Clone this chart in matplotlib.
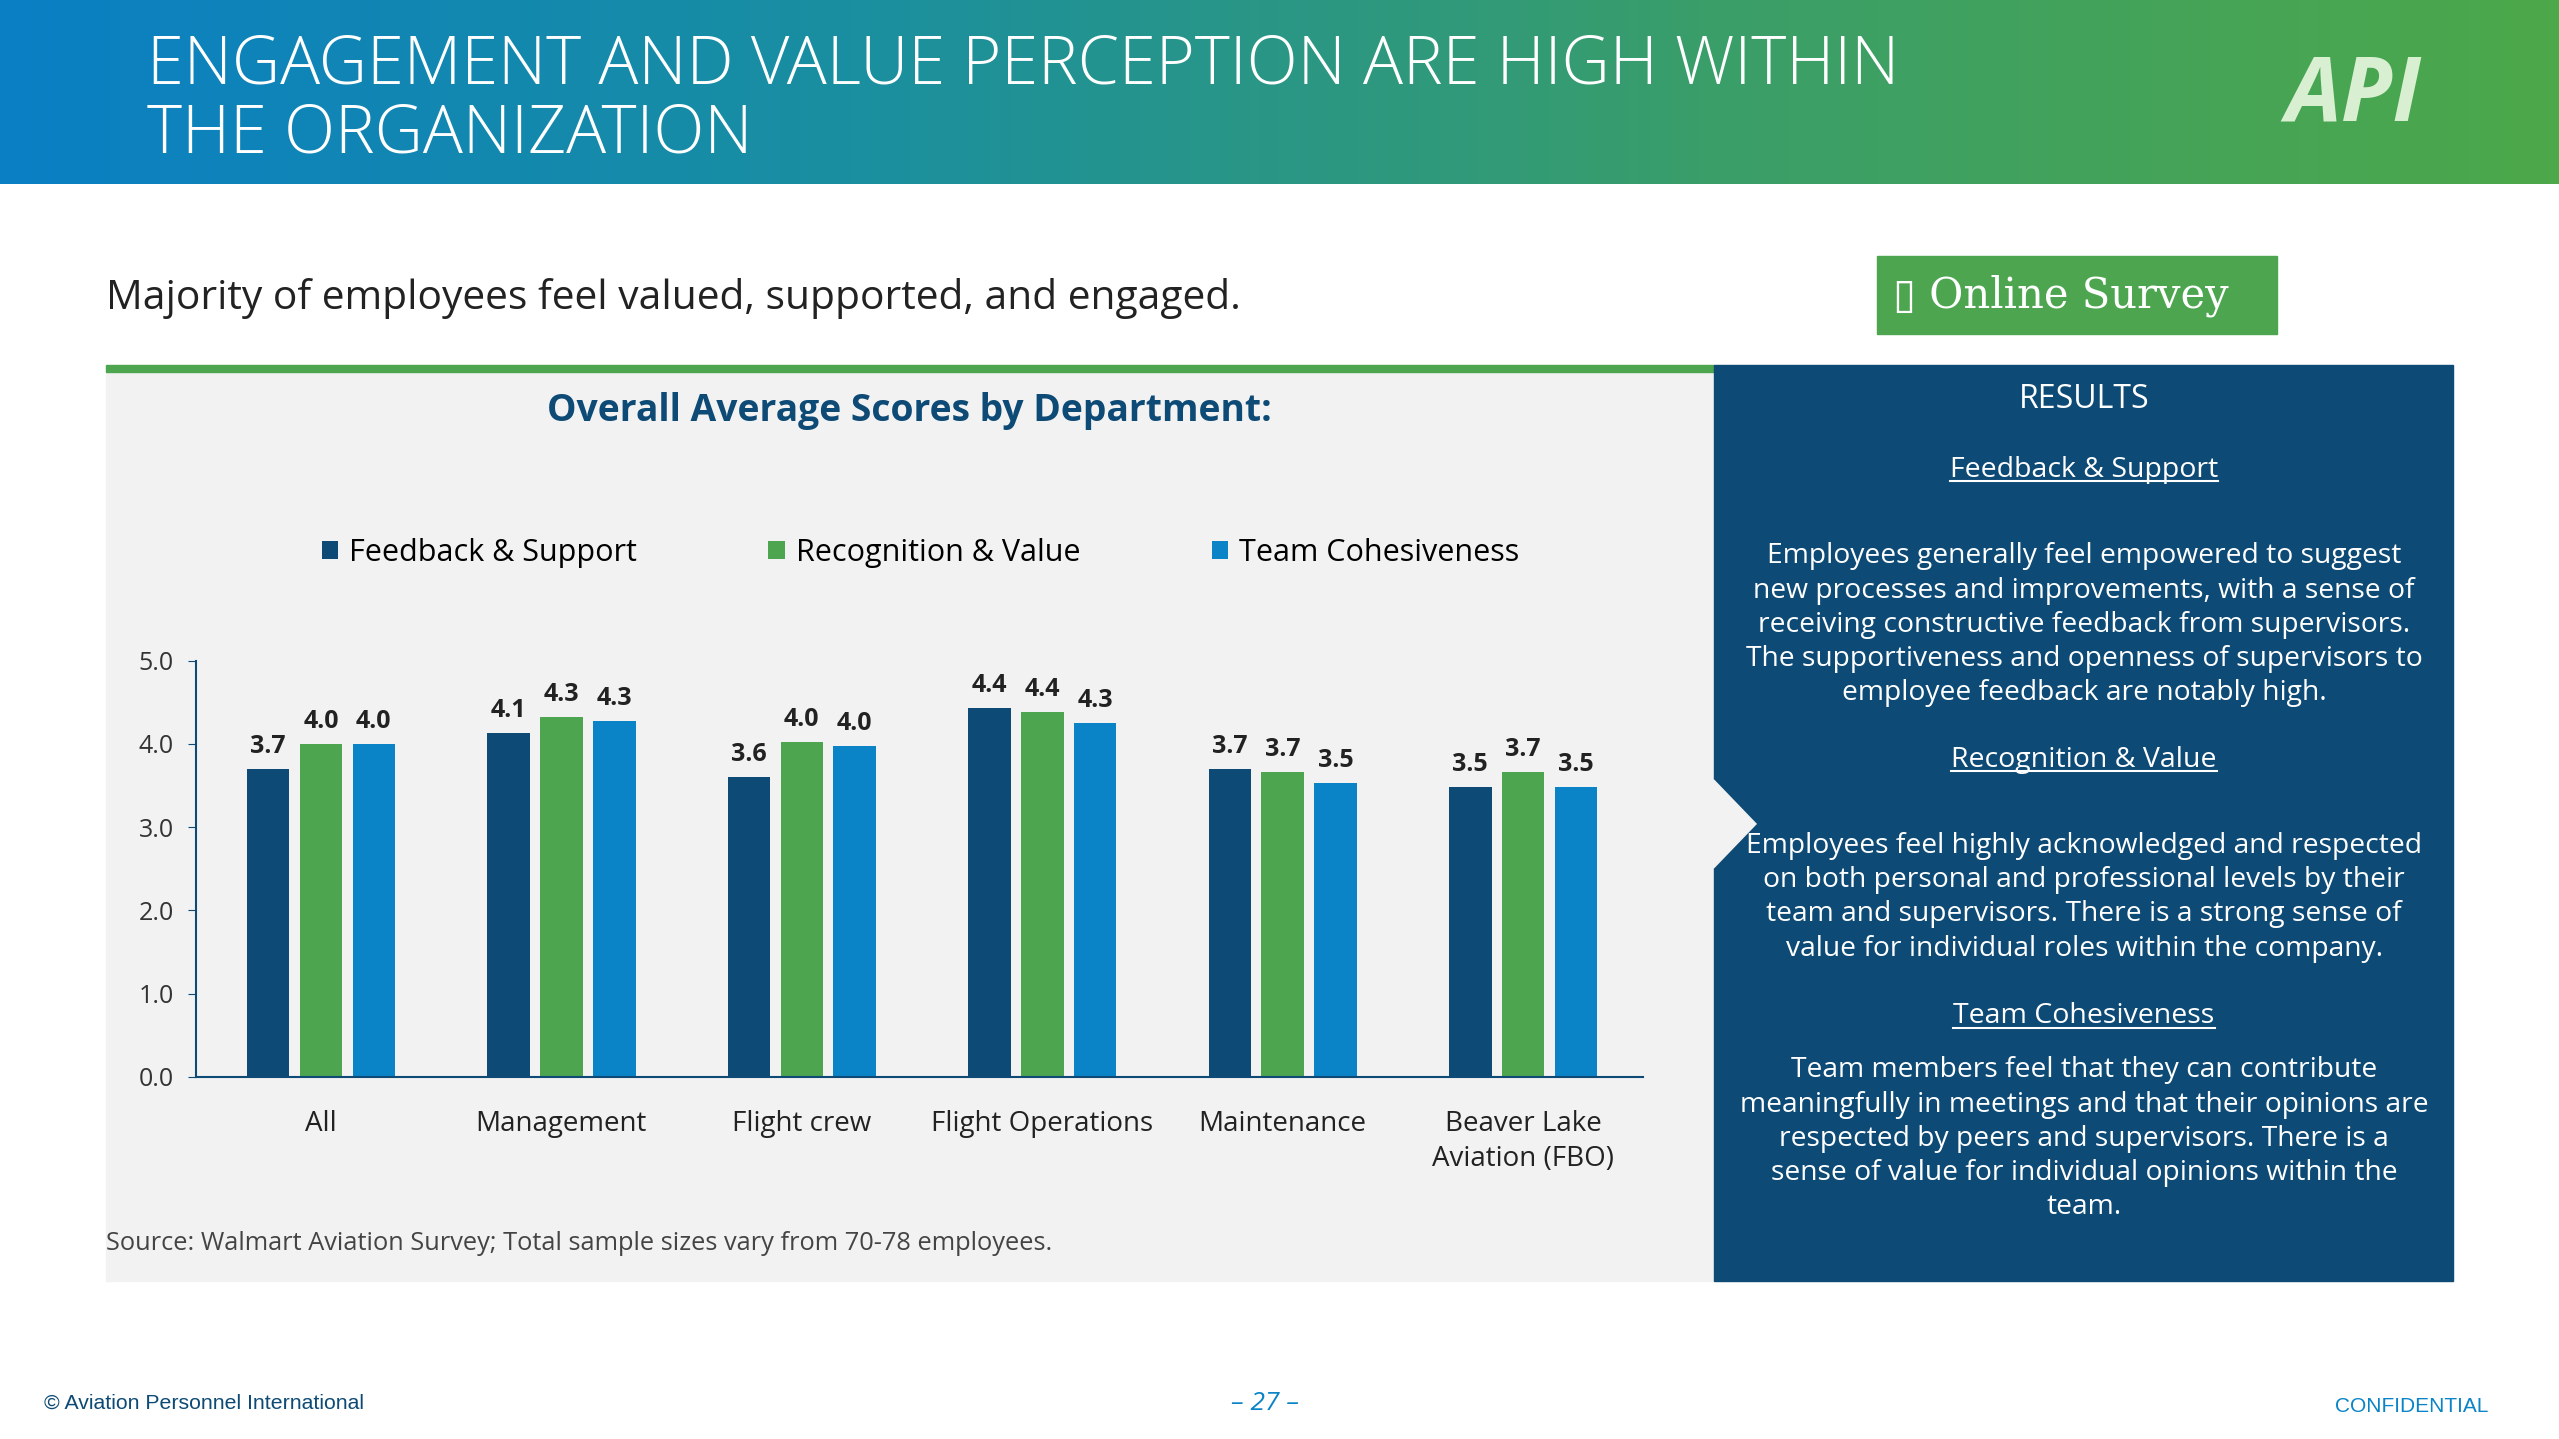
import numpy as np
import matplotlib.pyplot as plt
from matplotlib.patches import Rectangle, Polygon
from matplotlib.colors import LinearSegmentedColormap

plt.rcParams['font.family'] = ['Open Sans', 'DejaVu Sans']

departments = ['All', 'Management', 'Flight crew', 'Flight Operations', 'Maintenance', 'Beaver Lake\nAviation (FBO)']
series_names = ['Feedback & Support', 'Recognition & Value', 'Team Cohesiveness']
feedback = [3.7, 4.13, 3.6, 4.43, 3.7, 3.48]
recognition = [4.0, 4.33, 4.02, 4.38, 3.66, 3.66]
team = [4.0, 4.28, 3.98, 4.25, 3.53, 3.48]
labels = [['3.7', '4.1', '3.6', '4.4', '3.7', '3.5'],
          ['4.0', '4.3', '4.0', '4.4', '3.7', '3.7'],
          ['4.0', '4.3', '4.0', '4.3', '3.5', '3.5']]
colors = ['#0d4a75', '#4da64f', '#0a84c6']

W, H = 1568, 882
fig = plt.figure(figsize=(25.59, 14.39), dpi=100)
fig.patch.set_facecolor('white')


def box(x, y, w, h, z=-2, **kw):
    fig.add_artist(Rectangle((x / W, 1 - (y + h) / H), w / W, h / H, transform=fig.transFigure, zorder=z, **kw))


def txt(x, y, s, **kw):
    fig.text(x / W, 1 - y / H, s, **kw)


# header gradient
grad = np.linspace(0, 1, 512).reshape(1, -1)
hax = fig.add_axes([0, 1 - 113 / H, 1, 113 / H])
cmap = LinearSegmentedColormap.from_list('g', ['#0a7fc4', '#1a8fa0', '#3a9e6a', '#4da84a'])
hax.imshow(grad, aspect='auto', cmap=cmap, extent=[0, 1, 0, 1])
hax.axis('off')
txt(90, 62, 'ENGAGEMENT AND VALUE PERCEPTION ARE HIGH WITHIN\nTHE ORGANIZATION', color='white',
    fontsize=48, va='center', linespacing=1.05, fontweight='light')
txt(1442, 60, 'API', color='#d9efd2', fontsize=64, fontweight='bold', style='italic', va='center', ha='center')

txt(65, 183, 'Majority of employees feel valued, supported, and engaged.', fontsize=29.3, va='center', color='#222222')
box(1150, 157, 245, 48, color='#4da64f')
txt(1160, 181, '▯ Online Survey', fontsize=30, va='center', color='white', family=['DejaVu Serif'])

# panels
box(65, 228, 985, 557, color='#f2f2f2')
box(65, 224, 985, 4, color='#4da64f')
box(1050, 224, 453, 561, color='#0d4a75')
fig.add_artist(Polygon([(1050 / W, 1 - 478 / H), (1076 / W, 1 - 505 / H), (1050 / W, 1 - 532 / H)],
                       closed=True, transform=fig.transFigure, color='#f2f2f2', zorder=-1))

txt(557, 252, 'Overall Average Scores by Department:', fontsize=26.8, fontweight='bold', color='#0d4a75',
    ha='center', va='center')

ax = fig.add_axes([120 / W, 1 - 660 / H, 887 / W, 255 / H])
ax.set_facecolor('none')
x = np.arange(len(departments))
bw, off = 0.177, 0.22
for i, vals in enumerate([feedback, recognition, team]):
    bars = ax.bar(x + (i - 1) * off, vals, bw, color=colors[i], label=series_names[i])
    for j, b in enumerate(bars):
        ax.text(b.get_x() + b.get_width() / 2, b.get_height() + 0.12, labels[i][j], ha='center',
                va='bottom', fontsize=18, fontweight='bold', color='#222222')
ax.set_xlim(-0.52, 5.5)
ax.set_ylim(0, 5)
ax.set_yticks(np.arange(0, 5.01, 1))
ax.set_yticklabels([f'{v:.1f}' for v in np.arange(0, 5.01, 1)], fontsize=18, color='#333333')
ax.set_xticks(x)
ax.set_xticklabels(departments, fontsize=20, color='#222222', linespacing=1.35)
for s in ['top', 'right']:
    ax.spines[s].set_visible(False)
for s in ['left', 'bottom']:
    ax.spines[s].set_color('#0d4a75')
    ax.spines[s].set_linewidth(1.5)
ax.tick_params(axis='y', colors='#0d4a75', labelcolor='#333333', length=6, pad=10)
ax.tick_params(axis='x', length=0, pad=24)
fig.legend(loc='center', bbox_to_anchor=(564 / W, 1 - 339 / H), ncol=3, frameon=False, fontsize=22,
           handlelength=0.55, handleheight=0.55, handletextpad=0.35, columnspacing=4.3)

txt(65, 762, 'Source: Walmart Aviation Survey; Total sample sizes vary from 70-78 employees.', fontsize=18.3,
    va='center', color='#444444')

# right panel text
cx = 1277
txt(cx, 245, 'RESULTS', fontsize=23, color='white', ha='center', va='center')
sections = [
    (288, 'Feedback & Support', 383,
     'Employees generally feel empowered to suggest\nnew processes and improvements, with a sense of\n'
     'receiving constructive feedback from supervisors.\nThe supportiveness and openness of supervisors to\n'
     'employee feedback are notably high.'),
    (466, 'Recognition & Value', 550,
     'Employees feel highly acknowledged and respected\non both personal and professional levels by their\n'
     'team and supervisors. There is a strong sense of\nvalue for individual roles within the company.'),
    (623, 'Team Cohesiveness', 698,
     'Team members feel that they can contribute\nmeaningfully in meetings and that their opinions are\n'
     'respected by peers and supervisors. There is a\nsense of value for individual opinions within the\nteam.'),
]
fig.canvas.draw()
for hy, head, by, body in sections:
    t = fig.text(cx / W, 1 - hy / H, head, fontsize=20.5, color='white', ha='center', va='center')
    bb = t.get_window_extent(renderer=fig.canvas.get_renderer())
    fig.add_artist(plt.Line2D([bb.x0 / fig.bbox.width, bb.x1 / fig.bbox.width],
                              [bb.y0 / fig.bbox.height + 0.002] * 2, transform=fig.transFigure,
                              color='white', lw=1.5))
    txt(cx, by, body, fontsize=20.3, color='white', ha='center', va='center', linespacing=1.3)

txt(27, 860, '© Aviation Personnel International', fontsize=15.3, color='#0d4a75', va='center',
    family=['Liberation Sans'])
txt(775, 860, '– 27 –', fontsize=19, color='#0a84c6', ha='center', va='center', style='italic')
txt(1525, 862, 'CONFIDENTIAL', fontsize=15, color='#0a84c6', ha='right', va='center', family=['Liberation Sans'])

fig.savefig('out.png', dpi=100)
